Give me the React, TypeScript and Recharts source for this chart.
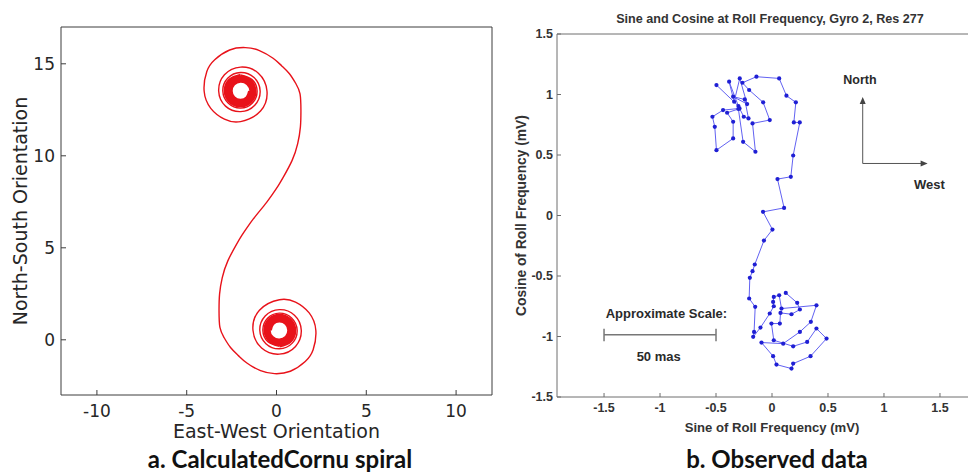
import React from "react";
import { ScatterChart, Scatter, XAxis, YAxis, ReferenceLine, ReferenceDot } from "recharts";

// a. Calculated Cornu spiral: points (x = East-West, y = North-South)
// arms run from the inflection point out to the coils, cores are the dense inner turns
const cornuLowerArm: [number, number][] = [
  [-0.92, 7.02], [-1.29, 6.57], [-1.63, 6.11], [-1.94, 5.66], [-2.22, 5.2], [-2.71, 4.29],
  [-3.02, 3.38], [-3.17, 2.48], [-3.2, 1.57], [-3.15, 0.67], [-2.92, 0.12], [-2.56, -0.42],
  [-2.12, -0.86], [-1.65, -1.26], [-0.89, -1.68], [-0.11, -1.84], [0.77, -1.71], [1.6, -1.18],
  [2.04, -0.54], [2.19, 0.52], [1.82, 1.46], [1.06, 2.05], [0.16, 2.18], [-0.95, 1.61],
  [-1.31, 0.52], [-0.83, -0.45], [0.16, -0.78], [1.06, -0.36], [1.38, 0.52], [1.0, 1.34],
  [0.16, 1.64], [-0.63, 1.29], [-0.93, 0.52], [-0.59, -0.21], [0.16, -0.49], [0.88, -0.18],
  [1.15, 0.52], [0.84, 1.19], [0.16, 1.45], [-0.5, 1.17], [-0.76, 0.52], [-0.48, -0.1],
  [0.16, -0.35],
];

const cornuLowerCore: [number, number][] = [
  [0.16, -0.35], [0.78, -0.09], [1.03, 0.52], [0.77, 1.11], [0.16, 1.35], [-0.43, 1.1],
  [-0.66, 0.52], [-0.41, -0.04], [0.16, -0.26], [0.72, -0.03], [0.94, 0.52], [0.7, 1.05],
  [0.16, 1.26], [-0.37, 1.03], [-0.57, 0.52], [-0.35, 0.02], [0.16, -0.18], [0.66, 0.04],
  [0.85, 0.52], [0.64, 0.99], [0.16, 1.17], [-0.3, 0.97], [-0.48, 0.52], [-0.29, 0.08],
  [0.16, -0.09], [0.59, 0.1], [0.76, 0.52], [0.58, 0.93], [0.16, 1.09], [-0.24, 0.91],
  [-0.4, 0.52], [-0.22, 0.14], [0.16, 0.0], [0.53, 0.16], [0.67, 0.52], [0.52, 0.87],
  [0.16, 1.01], [-0.19, 0.86], [-0.33, 0.52],
];

const cornuUpperArm: [number, number][] = [
  [-0.92, 7.02], [-0.55, 7.47], [-0.21, 7.93], [0.1, 8.38], [0.38, 8.84], [0.87, 9.75],
  [1.18, 10.66], [1.33, 11.56], [1.36, 12.47], [1.31, 13.37], [1.08, 13.92], [0.72, 14.46],
  [0.28, 14.9], [-0.19, 15.3], [-0.95, 15.72], [-1.73, 15.88], [-2.61, 15.75], [-3.44, 15.22],
  [-3.88, 14.58], [-4.03, 13.52], [-3.66, 12.58], [-2.9, 11.99], [-2.0, 11.86], [-0.89, 12.43],
  [-0.53, 13.52], [-1.01, 14.49], [-2.0, 14.82], [-2.9, 14.4], [-3.22, 13.52], [-2.84, 12.7],
  [-2.0, 12.4], [-1.21, 12.75], [-0.91, 13.52], [-1.25, 14.25], [-2.0, 14.53], [-2.72, 14.22],
  [-2.99, 13.52], [-2.68, 12.85], [-2.0, 12.59], [-1.34, 12.87], [-1.08, 13.52], [-1.36, 14.14],
  [-2.0, 14.39],
];

const cornuUpperCore: [number, number][] = [
  [-2.0, 14.39], [-2.62, 14.13], [-2.87, 13.52], [-2.61, 12.93], [-2.0, 12.69], [-1.41, 12.94],
  [-1.18, 13.52], [-1.43, 14.08], [-2.0, 14.3], [-2.56, 14.07], [-2.78, 13.52], [-2.54, 12.99],
  [-2.0, 12.78], [-1.47, 13.01], [-1.27, 13.52], [-1.49, 14.02], [-2.0, 14.22], [-2.5, 14.0],
  [-2.69, 13.52], [-2.48, 13.05], [-2.0, 12.87], [-1.54, 13.07], [-1.36, 13.52], [-1.55, 13.96],
  [-2.0, 14.13], [-2.43, 13.94], [-2.6, 13.52], [-2.42, 13.11], [-2.0, 12.95], [-1.6, 13.13],
  [-1.44, 13.52], [-1.62, 13.9], [-2.0, 14.04], [-2.37, 13.88], [-2.51, 13.52], [-2.36, 13.17],
  [-2.0, 13.03], [-1.65, 13.18], [-1.51, 13.52],
];

const ewTicks = [-10, -5, 0, 5, 10];
const nsTicks = [0, 5, 10, 15];

// b. Observed data: sine / cosine at roll frequency (mV), in time order
const sineMv = [
  -0.496, -0.3, -0.383, -0.338, -0.288, -0.222, -0.347, -0.243, -0.21, -0.252,
  -0.29, -0.437, -0.532, -0.511, -0.496, -0.347, -0.347, -0.401, -0.3, -0.258,
  -0.148, -0.174, -0.02, -0.079, -0.204, -0.264, -0.139, 0.064, 0.129, 0.213,
  0.195, 0.248, 0.189, 0.168, 0.049, 0.108, -0.08, 0.004, -0.072, -0.154,
  -0.174, -0.198, -0.204, -0.15, -0.16, -0.168, -0.103, -0.02, 0.016, 0.01,
  0.016, 0.064, 0.085, 0.397, 0.347, 0.249, 0.1, -0.094, 0.01, 0.04,
  0.174, 0.189, 0.344, 0.487, 0.397, 0.314, 0.189, 0.016, -0.005, 0.07,
  0.076, 0.174, 0.249, 0.225, 0.123,
];
const cosineMv = [
  1.078, 0.905, 1.106, 0.94, 1.133, 0.921, 0.982, 0.959, 0.802, 0.816,
  0.885, 0.871, 0.816, 0.733, 0.54, 0.637, 0.775, 0.849, 0.88, 0.609,
  0.527, 0.761, 0.789, 0.935, 1.037, 1.097, 1.147, 1.133, 0.99, 0.935,
  0.769, 0.769, 0.496, 0.32, 0.301, 0.063, 0.03, -0.116, -0.207, -0.405,
  -0.46, -0.515, -0.686, -0.755, -0.962, -1.003, -0.926, -0.81, -0.75, -0.714,
  -0.673, -0.659, -0.769, -0.742, -0.879, -0.962, -1.059, -1.05, -1.163, -1.232,
  -1.265, -1.224, -1.163, -1.017, -0.934, -1.045, -1.081, -1.031, -0.893, -0.893,
  -0.805, -0.816, -0.777, -0.722, -0.64,
];
const rollTicks = [-1.5, -1, -0.5, 0, 0.5, 1, 1.5];

const toPoints = (pairs: [number, number][]) => pairs.map(([x, y]) => ({ x, y }));
// one continuous arm: lower coil outwards, through the inflection, into the upper coil
const cornuArm = toPoints([...cornuLowerArm].reverse().concat(cornuUpperArm.slice(1)));
const observed = sineMv.map((s, i) => ({ x: s, y: cosineMv[i] }));

const RED = "#e8121a";
const VERDANA = "DejaVu Sans, Verdana, sans-serif";
const ARIAL = "Liberation Sans, Arial, sans-serif";

const noDot = () => <g />;
const blueDot = (p: any) => <circle cx={p.cx} cy={p.cy} r={2.1} fill="#1f1fd4" />;

const textMark = (text: string, size = 13) => (p: any) => (
  <text x={p.cx} y={p.cy} dy="0.35em" textAnchor="middle" fontFamily={ARIAL} fontWeight="bold" fontSize={size} fill="#2a2a2a">
    {text}
  </text>
);
const arrowUp = (p: any) => (
  <polygon points={`${p.cx},${p.cy} ${p.cx - 3},${p.cy + 7} ${p.cx + 3},${p.cy + 7}`} fill="#444" />
);
const arrowRight = (p: any) => (
  <polygon points={`${p.cx},${p.cy} ${p.cx - 7},${p.cy - 3} ${p.cx - 7},${p.cy + 3}`} fill="#444" />
);

function CornuChart() {
  const axis = "#3c3c3c";
  const tickFont = { fontSize: 17, fontFamily: VERDANA, fill: "#262626" };
  const titleFont = { fontSize: 19, fontFamily: VERDANA, fill: "#262626" };
  const arm = { stroke: RED, strokeWidth: 1.4 };
  const core = { stroke: RED, strokeWidth: 2.6 };
  return (
    <ScatterChart width={500} height={473} margin={{ top: 26, right: 7, bottom: 5, left: 11 }}>
      <XAxis
        type="number"
        dataKey="x"
        domain={[-12, 12]}
        ticks={ewTicks}
        allowDataOverflow
        height={73}
        tickSize={-5}
        tickMargin={15}
        stroke={axis}
        tick={tickFont}
        label={{ value: "East-West Orientation", position: "insideBottom", offset: 30, ...titleFont }}
      />
      <XAxis xAxisId="top" orientation="top" type="number" domain={[-12, 12]} ticks={ewTicks} allowDataOverflow height={1} tickSize={-5} tick={false} stroke={axis} />
      <YAxis
        type="number"
        dataKey="y"
        domain={[-3, 17]}
        ticks={nsTicks}
        allowDataOverflow
        width={50}
        tickSize={-5}
        tickMargin={11}
        stroke={axis}
        tick={tickFont}
        label={{ value: "North-South Orientation", angle: -90, position: "insideLeft", offset: 9, ...titleFont, style: { textAnchor: "middle" } }}
      />
      <YAxis yAxisId="right" orientation="right" type="number" domain={[-3, 17]} ticks={nsTicks} allowDataOverflow width={1} tickSize={-5} tick={false} stroke={axis} />
      <Scatter data={cornuArm} line={arm} lineJointType="natural" shape={noDot} isAnimationActive={false} />
      <Scatter data={toPoints(cornuLowerCore)} line={core} lineJointType="natural" shape={noDot} isAnimationActive={false} />
      <Scatter data={toPoints(cornuUpperCore)} line={core} lineJointType="natural" shape={noDot} isAnimationActive={false} />
    </ScatterChart>
  );
}

function ObservedChart() {
  const axis = "#6e6e6e";
  const tickFont = { fontSize: 12.5, fontFamily: ARIAL, fontWeight: "bold", fill: "#333" };
  const labelFont = { fontFamily: ARIAL, fontWeight: "bold", fill: "#333" };
  const ink = "#555";
  return (
    <ScatterChart width={520} height={473} margin={{ top: 33, right: 22, bottom: 36, left: 17 }}>
      <XAxis
        type="number"
        dataKey="x"
        domain={[-1.92, 1.92]}
        ticks={rollTicks}
        allowDataOverflow
        height={40}
        tickSize={-4}
        tickMargin={10}
        stroke={axis}
        tick={tickFont}
        label={{ value: "Sine of Roll Frequency (mV)", position: "insideBottom", offset: 5, fontSize: 13.1, ...labelFont }}
      />
      <XAxis xAxisId="top" orientation="top" type="number" domain={[-1.92, 1.92]} ticks={rollTicks} allowDataOverflow height={1} tickSize={-4} tick={false} stroke={axis} />
      <YAxis
        type="number"
        dataKey="y"
        domain={[-1.5, 1.5]}
        ticks={rollTicks}
        allowDataOverflow
        width={50}
        tickSize={-4}
        tickMargin={8}
        stroke={axis}
        tick={tickFont}
        label={{ value: "Cosine of Roll Frequency (mV)", angle: -90, position: "insideLeft", offset: 14, fontSize: 13.8, ...labelFont, style: { textAnchor: "middle" } }}
      />
      <YAxis yAxisId="right" orientation="right" type="number" domain={[-1.5, 1.5]} ticks={rollTicks} allowDataOverflow width={1} tickSize={-4} tick={false} stroke={axis} />

      <Scatter data={observed} line={{ stroke: "#6262f2", strokeWidth: 1 }} shape={blueDot} isAnimationActive={false} />

      {/* compass */}
      <ReferenceLine segment={[{ x: 0.81, y: 0.43 }, { x: 0.81, y: 0.96 }]} stroke={ink} />
      <ReferenceLine segment={[{ x: 0.81, y: 0.43 }, { x: 1.37, y: 0.43 }]} stroke={ink} />
      <ReferenceDot x={0.81} y={0.98} r={0} shape={arrowUp} />
      <ReferenceDot x={1.39} y={0.43} r={0} shape={arrowRight} />
      <ReferenceDot x={0.785} y={1.12} r={0} shape={textMark("North", 12.5)} />
      <ReferenceDot x={1.405} y={0.256} r={0} shape={textMark("West")} />

      {/* scale bar */}
      <ReferenceLine segment={[{ x: -1.5, y: -0.985 }, { x: -0.5, y: -0.985 }]} stroke="#777" strokeWidth={1.5} />
      <ReferenceLine segment={[{ x: -1.5, y: -0.935 }, { x: -1.5, y: -1.04 }]} stroke="#777" strokeWidth={1.5} />
      <ReferenceLine segment={[{ x: -0.5, y: -0.935 }, { x: -0.5, y: -1.04 }]} stroke="#777" strokeWidth={1.5} />
      <ReferenceDot x={-0.943} y={-0.811} r={0} shape={textMark("Approximate Scale:")} />
      <ReferenceDot x={-1.012} y={-1.161} r={0} shape={textMark("50 mas")} />
    </ScatterChart>
  );
}

const captionStyle: React.CSSProperties = {
  position: "absolute",
  width: 400,
  top: 447,
  textAlign: "center",
  fontFamily: "Lato, 'Open Sans', sans-serif",
  fontWeight: 700,
  fontSize: 24,
  lineHeight: "24px",
  color: "#111",
  whiteSpace: "nowrap",
};

export default function App() {
  return (
    <div style={{ position: "absolute", left: 0, top: 0, width: 968, height: 473, overflow: "hidden", background: "#fff" }}>
      <div style={{ position: "absolute", left: 0, top: 0 }}>
        <CornuChart />
      </div>
      <div style={{ position: "absolute", left: 490, top: 0 }}>
        <ObservedChart />
      </div>
      <div
        style={{
          position: "absolute",
          left: 570,
          width: 400,
          top: 12,
          textAlign: "center",
          fontFamily: ARIAL,
          fontWeight: 700,
          fontSize: 12.6,
          lineHeight: "15px",
          color: "#333",
          whiteSpace: "nowrap",
        }}
      >
        Sine and Cosine at Roll Frequency, Gyro 2, Res 277
      </div>
      <div style={{ ...captionStyle, left: 80 }}>a. CalculatedCornu spiral</div>
      <div style={{ ...captionStyle, left: 577 }}>b. Observed data</div>
    </div>
  );
}
